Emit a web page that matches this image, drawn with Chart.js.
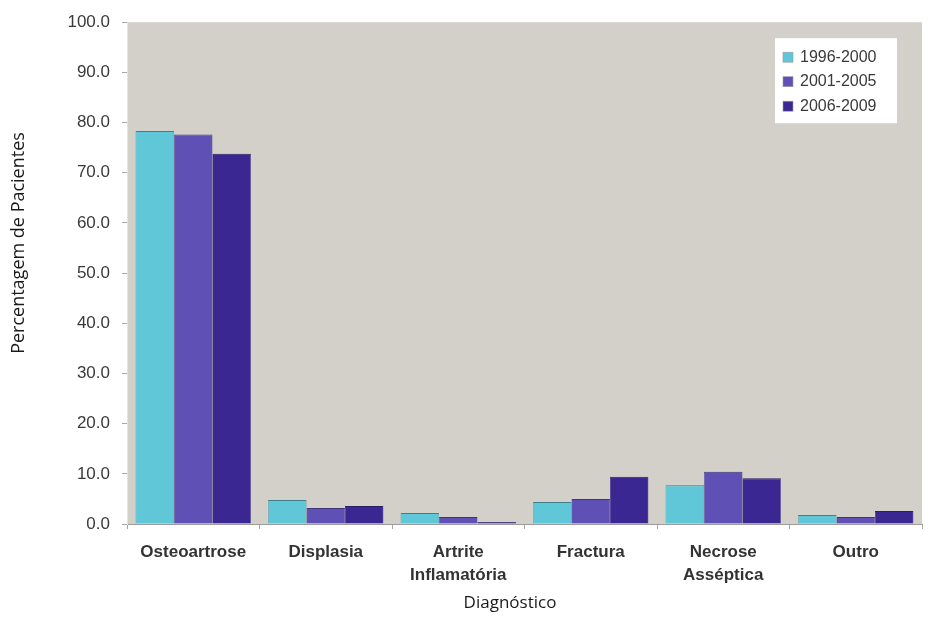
<!DOCTYPE html>
<html>
<head>
<meta charset="utf-8">
<script src="https://cdn.jsdelivr.net/npm/chart.js@4/dist/chart.umd.min.js"></script>
<style>
  html, body { margin: 0; padding: 0; background: #ffffff; }
  #wrap { width: 928px; height: 641px; }
</style>
</head>
<body>
<div id="wrap"><canvas id="c" width="928" height="641"></canvas></div>
<script>
// Diagnosis categories (multi-line labels as arrays)
const categories = [
  'Osteoartrose',
  'Displasia',
  ['Artrite', 'Inflamatória'],
  'Fractura',
  ['Necrose', 'Asséptica'],
  'Outro'
];

// Share of patients (%) per diagnosis, by period
const seriesLabels = ['1996-2000', '2001-2005', '2006-2009'];
const values1996 = [78.3, 4.8, 2.2, 4.4, 7.7, 1.8];
const values2001 = [77.6, 3.2, 1.4, 5.0, 10.4, 1.4];
const values2006 = [73.8, 3.6, 0.4, 9.4, 9.1, 2.6];

const yTickValues = [0, 10, 20, 30, 40, 50, 60, 70, 80, 90, 100];

const yTitle = 'Percentagem de Pacientes';
const xTitle = 'Diagnóstico';

const colors = ['#60c7d8', '#5e50b4', '#3b2791'];
const borders = ['#3f7f8a', '#40357c', '#2a1c66'];

const PLOT_LEFT = 127;
const PLOT_BOTTOM = 524;

// Grey plot background
const plotBackground = {
  id: 'plotBackground',
  beforeDraw(chart) {
    const { ctx, chartArea: a } = chart;
    ctx.save();
    ctx.fillStyle = '#d3d0ca';
    ctx.fillRect(a.left, a.top, a.right - a.left, a.bottom - a.top);
    ctx.restore();
  }
};

// Boxed legend in the upper right of the plot, plus the axis titles
const boxLegend = {
  id: 'boxLegend',
  afterDraw(chart) {
    const { ctx, chartArea: a } = chart;
    ctx.save();
    const bx = a.right - 147, by = a.top + 16, bw = 122, bh = 85;
    ctx.fillStyle = '#ffffff';
    ctx.fillRect(bx, by, bw, bh);
    ctx.font = '16px "Liberation Sans", Arial, sans-serif';
    ctx.textBaseline = 'middle';
    chart.data.datasets.forEach((ds, i) => {
      const y = by + 19 + i * 24.5;
      ctx.fillStyle = ds.backgroundColor;
      ctx.fillRect(bx + 8, y - 5, 10, 10);
      ctx.strokeStyle = '#9a9aa8';
      ctx.lineWidth = 0.6;
      ctx.strokeRect(bx + 8, y - 5, 10, 10);
      ctx.fillStyle = '#3a3a3a';
      ctx.fillText(ds.label, bx + 25, y);
    });

    ctx.fillStyle = '#1a1a1a';
    ctx.font = '17px "Open Sans", sans-serif';
    ctx.textAlign = 'center';
    ctx.textBaseline = 'middle';
    ctx.fillText(xTitle, 510, 603);
    ctx.font = '18px "Open Sans", sans-serif';
    ctx.translate(19, 243);
    ctx.rotate(-Math.PI / 2);
    ctx.fillText(yTitle, 0, 0);
    ctx.restore();
  }
};

const datasets = [values1996, values2001, values2006].map((vals, i) => ({
  label: seriesLabels[i],
  data: vals,
  backgroundColor: colors[i],
  borderColor: borders[i],
  borderWidth: { top: 1, left: 0.5, right: 0.5, bottom: 0 },
  borderSkipped: 'bottom',
  barPercentage: 1.0,
  categoryPercentage: 0.87
}));

new Chart(document.getElementById('c'), {
  type: 'bar',
  data: { labels: categories, datasets },
  options: {
    responsive: false,
    devicePixelRatio: 1,
    animation: false,
    layout: { padding: { top: 22, right: 6, left: 0, bottom: 0 } },
    plugins: {
      legend: { display: false },
      tooltip: { enabled: false }
    },
    scales: {
      x: {
        offset: true,
        grid: {
          offset: true,
          drawOnChartArea: false,
          drawTicks: true,
          tickLength: 5,
          color: '#a8a8a8'
        },
        border: { display: true, color: '#9c9c9c', width: 1 },
        ticks: {
          padding: 12,
          color: '#333333',
          font: { family: '"Liberation Sans", Arial, sans-serif', size: 17, weight: 'bold', lineHeight: 1.35 }
        },
        afterFit(scale) { scale.height = 641 - PLOT_BOTTOM; }
      },
      y: {
        min: 0,
        max: 100,
        afterBuildTicks(scale) { scale.ticks = yTickValues.map(v => ({ value: v })); },
        grid: {
          drawOnChartArea: false,
          drawTicks: true,
          tickLength: 5,
          color: '#a8a8a8'
        },
        border: { display: true, color: '#e6e4e0', width: 1 },
        ticks: {
          padding: 12,
          color: '#3a3a3a',
          font: { family: '"Liberation Sans", Arial, sans-serif', size: 17 },
          callback: (v) => Number(v).toFixed(1)
        },
        afterFit(scale) { scale.width = PLOT_LEFT; }
      }
    }
  },
  plugins: [plotBackground, boxLegend]
});
</script>
</body>
</html>
